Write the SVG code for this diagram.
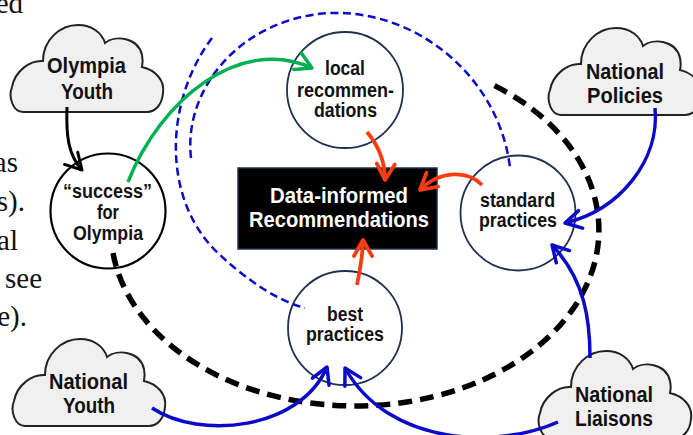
<svg xmlns="http://www.w3.org/2000/svg" width="693" height="435" viewBox="0 0 693 435">
<style>
.bg{font-family:"Liberation Serif","Times New Roman",serif;font-size:29px;fill:#111;text-anchor:end}
.lbl{font-family:"Liberation Sans",Arial,sans-serif;font-weight:bold;text-anchor:middle;fill:#111}
.cl{font-size:22px}
.ci{font-size:20px}
.bx{font-size:21.5px;fill:#fff}
.cloud{fill:#f0f0f0;stroke:#222;stroke-width:2}
.node{fill:none;stroke:#1f3050;stroke-width:1.8}
.blk{fill:none;stroke:#000;stroke-width:2.2}
.bdash{fill:none;stroke:#0a0ac8;stroke-width:2.5;stroke-dasharray:8 4.5}
.kdash{fill:none;stroke:#000;stroke-width:5.5;stroke-dasharray:14 8}
.ab{fill:none;stroke:#0a0ac8;stroke-width:3.5}
.ar{fill:none;stroke:#fa3c12;stroke-width:3.8}
.ag{fill:none;stroke:#00b050;stroke-width:3.5}
.ak{fill:none;stroke:#000;stroke-width:3}
.hd{stroke-linecap:round;stroke-linejoin:round}
</style>
<defs>
<path id="cloudShape" d="M13,87 C3,87 -2,72 2,62 C5,46 20,35 33,36 C33,15 50,0 68,0 C82,0 92,8 95,18 C105,10 128,12 132,30 C133,35 133,38 132,42 C145,45 155,55 153,68 C152,80 145,87 137,87 Z"/>
<path id="head" d="M-16,-9 L0,0 L-16,9"/>
</defs>
<rect width="693" height="435" fill="#fff"/>
<g id="background-text">
<text class="bg" x="23" y="13">ed</text>
<text class="bg" x="18" y="172">as</text>
<text class="bg" x="25" y="211">s).</text>
<text class="bg" x="18" y="250">al</text>
<text class="bg" x="42" y="288">see</text>
<text class="bg" x="27" y="326">e).</text>
</g>
<g id="cloud-olympia-youth"><use href="#cloudShape" class="cloud" transform="translate(10,25)"/></g>
<g id="cloud-national-policies"><use href="#cloudShape" class="cloud" transform="translate(548,28)"/></g>
<g id="cloud-national-youth"><use href="#cloudShape" class="cloud" transform="translate(12,339)"/></g>
<g id="cloud-national-liaisons"><use href="#cloudShape" class="cloud" transform="translate(538,351)"/></g>
<g id="node-success">
<circle class="blk" cx="108" cy="211" r="57.5"/>
<text class="lbl ci" x="107.5" y="198" textLength="89" lengthAdjust="spacingAndGlyphs">“success”</text>
<text class="lbl ci" x="108" y="219" textLength="22" lengthAdjust="spacingAndGlyphs">for</text>
<text class="lbl ci" x="108" y="240" textLength="70" lengthAdjust="spacingAndGlyphs">Olympia</text>
</g>
<g id="node-local">
<circle class="node" cx="345" cy="90" r="58"/>
<text class="lbl ci" x="345" y="75" textLength="40" lengthAdjust="spacingAndGlyphs">local</text>
<text class="lbl ci" x="345.5" y="97" textLength="97" lengthAdjust="spacingAndGlyphs">recommen-</text>
<text class="lbl ci" x="345.5" y="117" textLength="63" lengthAdjust="spacingAndGlyphs">dations</text>
</g>
<g id="node-standard">
<circle class="node" cx="518" cy="213" r="57.5"/>
<text class="lbl ci" x="517.5" y="207" textLength="75" lengthAdjust="spacingAndGlyphs">standard</text>
<text class="lbl ci" x="518" y="227" textLength="78" lengthAdjust="spacingAndGlyphs">practices</text>
</g>
<g id="node-best">
<circle class="node" cx="345" cy="328" r="57"/>
<text class="lbl ci" x="345" y="321" textLength="36" lengthAdjust="spacingAndGlyphs">best</text>
<text class="lbl ci" x="345" y="341" textLength="78" lengthAdjust="spacingAndGlyphs">practices</text>
</g>
<g id="node-data-informed">
<rect x="238" y="168" width="199" height="81" fill="#000" stroke="#1f3050" stroke-width="1.5"/>
<text class="lbl bx" x="339" y="203" textLength="138" lengthAdjust="spacingAndGlyphs">Data-informed</text>
<text class="lbl bx" x="339" y="227" textLength="180" lengthAdjust="spacingAndGlyphs">Recommendations</text>
</g>
<g id="connectors">
<path class="kdash" d="M113,253 A244,176 0 1 0 491.4,84.1"/>
<path class="bdash" d="M191,158 C183,90 240,18 330,13 C420,10 500,80 510,168"/>
<path class="bdash" d="M212,38 C165,100 160,200 220,255 C245,278 275,300 305,308"/>
<path class="ak" d="M67,107 C66,135 68,155 82,170"/>
<use href="#head" class="ak hd" transform="translate(82,170) rotate(47)"/>
<path class="ag" d="M128,182 C160,100 240,35 312,68"/>
<use href="#head" class="ag hd" transform="translate(312,68) rotate(25)"/>
<path class="ar" d="M367,132 C378,145 385,160 385,180"/>
<use href="#head" class="ar hd" transform="translate(385,180) rotate(93)"/>
<path class="ar" d="M482,185 C468,170 440,170 420,190"/>
<use href="#head" class="ar hd" transform="translate(420,190) rotate(140)"/>
<path class="ar" d="M357,285 C360,270 363,255 363,240"/>
<use href="#head" class="ar hd" transform="translate(363,240) rotate(-90)"/>
<path class="ab" d="M655,108 C660,160 620,210 565,223"/>
<use href="#head" class="ab hd" transform="translate(565,223) rotate(167)"/>
<path class="ab" d="M590,358 C590,320 585,280 552,245"/>
<use href="#head" class="ab hd" transform="translate(552,245) rotate(-133)"/>
<path class="ab" d="M152,408 C200,440 300,430 327,367"/>
<use href="#head" class="ab hd" transform="translate(327,367) rotate(-67)"/>
<path class="ab" d="M558,422 C500,448 390,448 345,368"/>
<use href="#head" class="ab hd" transform="translate(345,368) rotate(-119)"/>
</g>
<g id="labels-clouds">
<text class="lbl cl" x="86.5" y="73" textLength="79" lengthAdjust="spacingAndGlyphs">Olympia</text>
<text class="lbl cl" x="87" y="99" textLength="52" lengthAdjust="spacingAndGlyphs">Youth</text>
<text class="lbl cl" x="625" y="79" textLength="78" lengthAdjust="spacingAndGlyphs">National</text>
<text class="lbl cl" x="625" y="103" textLength="76" lengthAdjust="spacingAndGlyphs">Policies</text>
<text class="lbl cl" x="88.5" y="389" textLength="79" lengthAdjust="spacingAndGlyphs">National</text>
<text class="lbl cl" x="89" y="413" textLength="52" lengthAdjust="spacingAndGlyphs">Youth</text>
<text class="lbl cl" x="614" y="402" textLength="78" lengthAdjust="spacingAndGlyphs">National</text>
<text class="lbl cl" x="614" y="426" textLength="78" lengthAdjust="spacingAndGlyphs">Liaisons</text>
</g>
</svg>
